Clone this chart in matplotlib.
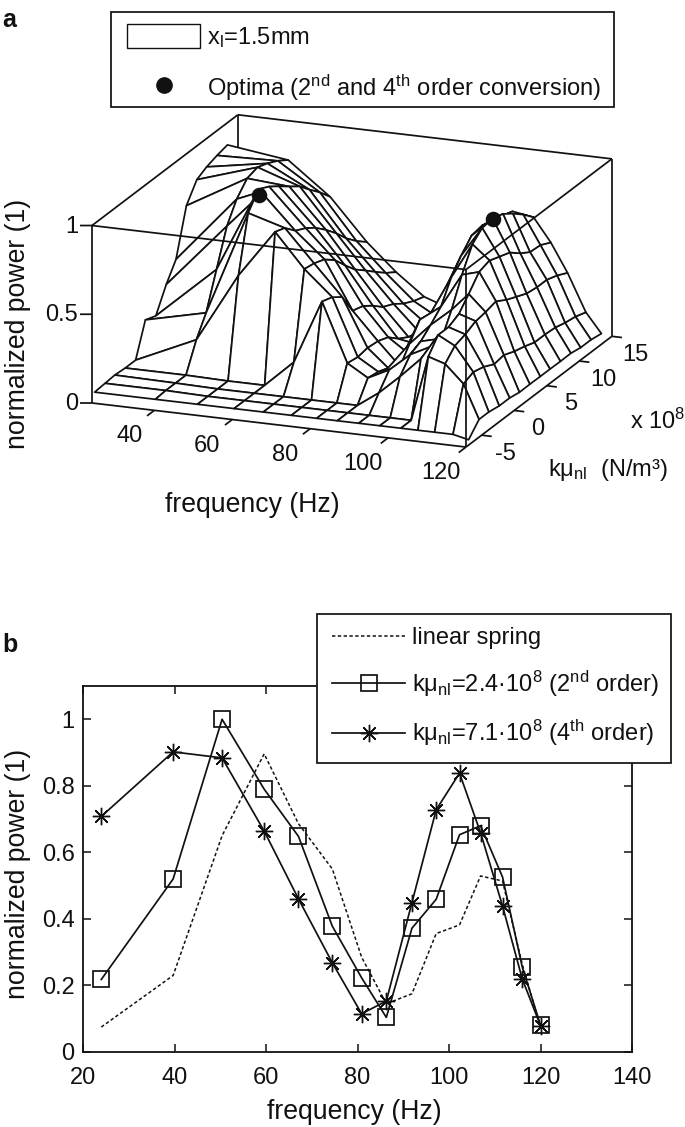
import matplotlib
matplotlib.use("Agg")
import matplotlib.pyplot as plt
import numpy as np
from matplotlib.lines import Line2D
from matplotlib.patches import Patch, Rectangle
from mpl_toolkits.mplot3d import proj3d

plt.rcParams['font.family'] = ['Liberation Sans', 'DejaVu Sans']
plt.rcParams['mathtext.fontset'] = 'custom'
plt.rcParams['mathtext.rm'] = 'Liberation Sans'
plt.rcParams['mathtext.default'] = 'rm'

# ---------- data ----------
freq = [24, 39.6, 50.4, 59.8, 67.3, 74.5, 81, 86.3, 91.8, 97.2, 102.6, 107, 111.3, 116, 120]
k_grid = [-7.0, -5.4, -3.9, -2.3, -0.7, 0.8, 2.4, 4.0, 5.5, 7.1, 8.7, 10.2, 11.8, 13.4]

z_m70 = [.05, .05, .05, .05, .05, .05, .05, .05, .05, .05, .05, .05, .05, .05, .03]
z_m54 = [.055, .055, .05, .05, .05, .05, .05, .05, .05, .05, .05, .42, .39, .29, .10]
z_m39 = [.06, .055, .05, .05, .05, .05, .05, .05, .135, .24, .355, .50, .45, .315, .10]
z_m23 = [.055, .055, .05, .05, .20, .56, .23, .16, .22, .32, .38, .50, .47, .30, .09]
z_m07 = [.055, .21, .60, .87, .68, .54, .22, .15, .19, .35, .38, .53, .50, .27, .09]
z_p08 = [.24, .32, .91, .85, .67, .50, .23, .13, .28, .40, .50, .60, .51, .28, .08]
z_p24 = [.218, .52, 1.0, .79, .648, .378, .223, .104, .372, .459, .653, .68, .526, .256, .081]
z_p40 = [.35, .72, .97, .76, .60, .36, .20, .12, .36, .58, .78, .70, .49, .24, .08]
z_p55 = [.45, .83, .93, .72, .53, .32, .15, .13, .40, .66, .83, .68, .465, .22, .08]
z_p71 = [.708, .902, .884, .664, .46, .268, .115, .153, .449, .728, .838, .659, .439, .22, .079]
z_p87 = [.81, .92, .84, .60, .41, .24, .10, .20, .50, .74, .82, .61, .43, .215, .08]
z_p102 = [.84, .90, .78, .53, .36, .20, .09, .25, .55, .72, .78, .575, .43, .20, .07]
z_p118 = [.86, .87, .72, .47, .31, .17, .09, .28, .56, .71, .73, .57, .41, .19, .07]
z_p134 = [.875, .83, .65, .42, .27, .15, .10, .30, .55, .69, .67, .54, .38, .17, .06]

optima_f = [50.4, 102.6]
optima_k = [2.4, 7.1]
optima_z = [.97, .838]

freq_b = [24, 39.7, 50.4, 59.6, 67.1, 74.5, 80.9, 86.3, 91.9, 97.2, 102.3, 106.9, 111.7, 116, 120]
power_linear = [.075, .23, .65, .896, .686, .55, .285, .145, .175, .356, .382, .529, .514, .264, .075]
power_2nd = [.218, .52, 1.0, .79, .648, .378, .223, .104, .372, .459, .653, .68, .526, .256, .081]
power_4th = [.708, .902, .884, .664, .46, .268, .115, .153, .449, .728, .838, .659, .439, .22, .079]

x_ticks_a = [40, 60, 80, 100, 120]
y_ticks_a = [-5, 0, 5, 10, 15]
z_ticks_a = [0, 0.5, 1]
z_labels_a = ['0', '0.5', '1']

x_ticks_b = [20, 40, 60, 80, 100, 120, 140]
y_ticks_b = [0, .2, .4, .6, .8, 1]
y_labels_b = ['0', '0.2', '0.4', '0.6', '0.8', '1']

# ---------- figure ----------
W, H = 685, 1127
fig = plt.figure(figsize=(W / 100, H / 100), dpi=100)
FS_T = 17
FS_L = 19.2
LW = 1.25
INK = '#111111'

# ---------- panel a ----------
ax3 = fig.add_axes([0, .5, .6, .6], projection='3d', proj_type='ortho')
ax3.view_init(elev=17.4, azim=-68.5)
ax3.set_box_aspect((402, 398, 186))
ax3.computed_zorder = False
ax3.patch.set_visible(False)
ax3.set_axis_off()
x0, x1, y0, y1 = 24, 120, -7.4, 15
ax3.set_xlim(x0, x1)
ax3.set_ylim(y0, y1)
ax3.set_zlim(0, 1)

X, Y = np.meshgrid(freq, k_grid)
Z = np.array([z_m70, z_m54, z_m39, z_m23, z_m07, z_p08, z_p24, z_p40, z_p55,
              z_p71, z_p87, z_p102, z_p118, z_p134])
ax3.plot_surface(X, Y, Z, rstride=1, cstride=1, color='white', edgecolor=INK,
                 linewidth=LW, shade=False, antialiased=True, zorder=2)

dk = dict(color=INK, lw=LW, solid_capstyle='butt')
# back edges (behind the surface)
for a, b in [((x0, y1, 0), (x0, y1, 1)), ((x1, y1, 0), (x1, y1, 1)),
             ((x0, y1, 1), (x1, y1, 1)), ((x0, y0, 1), (x0, y1, 1)),
             ((x0, y0, 0), (x0, y0, 1))]:
    ax3.plot(*zip(a, b), zorder=1, **dk)
# front edges (over the surface)
for a, b in [((x0, y0, 1), (x1, y0, 1)), ((x1, y0, 1), (x1, y1, 1)),
             ((x1, y0, 0), (x1, y0, 1)), ((x0, y0, 0), (x1, y0, 0)),
             ((x1, y0, 0), (x1, y1, 0))]:
    ax3.plot(*zip(a, b), zorder=3, **dk)

dx = x1 - x0
dy = y1 - y0
for f in x_ticks_a:
    ax3.plot([f, f], [y0, y0 - .05 * dy], [0, 0], zorder=3, **dk)
for k in y_ticks_a:
    ax3.plot([x1, x1 + .027 * dx], [k, k], [0, 0], zorder=3, **dk)
for z in z_ticks_a:
    ax3.plot([x0, x0 - .0278 * dx], [y0, y0 - .011 * dy], [z, z], zorder=3, **dk)

ax3.scatter(optima_f, optima_k, optima_z, s=125, c=INK, depthshade=False, zorder=5, linewidths=0)


def px(x, y, z):
    xs, ys, _ = proj3d.proj_transform(x, y, z, ax3.get_proj())
    return ax3.transData.transform((xs, ys))


# fit the 3D box to the reference frame: corner (x0,y0,0) -> (92,403), (x1,y0,0) -> (466,447)
side = 600.0
l, b = 0.0, 400.0
for _ in range(3):
    ax3.set_position([l / W, b / H, side / W, side / H])
    fig.canvas.draw()
    p0 = px(x0, y0, 0)
    p1 = px(x1, y0, 0)
    side *= 374.0 / (p1[0] - p0[0])
    ax3.set_position([l / W, b / H, side / W, side / H])
    fig.canvas.draw()
    p0 = px(x0, y0, 0)
    l += 92 - p0[0]
    b += (H - 403) - p0[1]
ax3.set_position([l / W, b / H, side / W, side / H])
fig.canvas.draw()


def label_at(anchor, ox, oy, s, ha='center'):
    p = px(*anchor)
    fig.text((p[0] + ox) / W, (p[1] - oy) / H, s, ha=ha, va='center', fontsize=FS_T, color=INK)


for f in x_ticks_a:
    label_at((f, y0, 0), -25, 26, str(f))
for k in y_ticks_a:
    label_at((x1, k, 0), 24, 18.5, str(k))
for z, lab in zip(z_ticks_a, z_labels_a):
    label_at((x0, y0, z), -14, 1, lab, ha='right')

fig.text(18 / W, 1 - 324 / H, 'normalized power (1)', rotation=90, ha='center', va='center',
         fontsize=FS_L, color=INK)
fig.text(252 / W, 1 - 505 / H, 'frequency (Hz)', ha='center', va='center', fontsize=FS_L, color=INK)
fig.text(548 / W, 1 - 470 / H, 'kμ$_{\\mathrm{nl}}$  (N/m³)', ha='left', va='center', fontsize=FS_T, color=INK)
fig.text(630 / W, 1 - 421 / H, 'x 10$^{8}$', ha='left', va='center', fontsize=FS_T, color=INK)
fig.text(2 / W, 1 - 20 / H, 'a', ha='left', va='center', fontsize=18, fontweight='bold', color=INK)
fig.text(2 / W, 1 - 645 / H, 'b', ha='left', va='center', fontsize=18, fontweight='bold', color=INK)

# legend frames are drawn apart so that they can sit exactly where the reference has them
fig.add_artist(Rectangle((111 / W, 1 - 107 / H), 503 / W, 95 / H, transform=fig.transFigure,
                         facecolor='white', edgecolor=INK, linewidth=LW, zorder=3))
fig.legend(
    handles=[Patch(facecolor='white', edgecolor=INK, linewidth=1.0),
             Line2D([], [], ls='none', marker='o', ms=11, color=INK)],
    labels=['x$_{\\mathrm{l}}$=1.5mm', 'Optima (2$^{\\mathrm{nd}}$ and 4$^{\\mathrm{th}}$ order conversion)'],
    loc='upper left', bbox_to_anchor=(127 / W, 1 - 24 / H), fontsize=FS_T,
    handlelength=3.1, handleheight=1.2, handletextpad=.28, labelspacing=.95,
    borderpad=0, borderaxespad=0, frameon=False, labelcolor=INK).set_zorder(4)

# ---------- panel b ----------
axb = fig.add_axes([83 / W, 1 - 1052 / H, 549 / W, 366 / H])
axb.plot(freq_b, power_linear, color=INK, lw=1.1, ls=(0, (2.2, 1.6)), label='linear spring')
axb.plot(freq_b, power_2nd, color=INK, lw=LW, marker='s', ms=11, mfc='none', mew=1.25,
         label='kμ$_{\\mathrm{nl}}$=2.4·10$^{8}$ (2$^{\\mathrm{nd}}$ order)')
axb.plot(freq_b, power_4th, color=INK, lw=LW, marker=(8, 2, 0), ms=12.5, mew=1.0,
         label='kμ$_{\\mathrm{nl}}$=7.1·10$^{8}$ (4$^{\\mathrm{th}}$ order)')
axb.set_xlim(20, 140)
axb.set_ylim(0, 1.1)
axb.set_xticks(x_ticks_b)
axb.set_yticks(y_ticks_b)
axb.set_yticklabels(y_labels_b)
axb.tick_params(direction='in', top=True, right=True, length=5.5, width=1.1, labelsize=FS_T,
                colors=INK, pad=6)
axb.tick_params(axis='x', pad=11)
for s in axb.spines.values():
    s.set_linewidth(1.3)
    s.set_color(INK)
axb.set_xlabel('frequency (Hz)', fontsize=FS_L, color=INK, va='center')
axb.xaxis.set_label_coords((354 - 83) / 549, -(1112 - 1052) / 366, transform=axb.transAxes)
fig.text(18 / W, 1 - 874 / H, 'normalized power (1)', rotation=90, ha='center', va='center',
         fontsize=FS_L, color=INK)

fig.add_artist(Rectangle((317 / W, 1 - 763 / H), 354 / W, 149 / H, transform=fig.transFigure,
                         facecolor='white', edgecolor=INK, linewidth=LW, zorder=3))
h_b, l_b = axb.get_legend_handles_labels()
fig.legend(h_b, l_b, loc='upper left', bbox_to_anchor=(332 / W, 1 - 627 / H),
           fontsize=FS_T, handlelength=3.1, handletextpad=.3, labelspacing=.82,
           borderpad=0, borderaxespad=0, frameon=False, labelcolor=INK, numpoints=1).set_zorder(4)

fig.savefig('out.png', dpi=100)
